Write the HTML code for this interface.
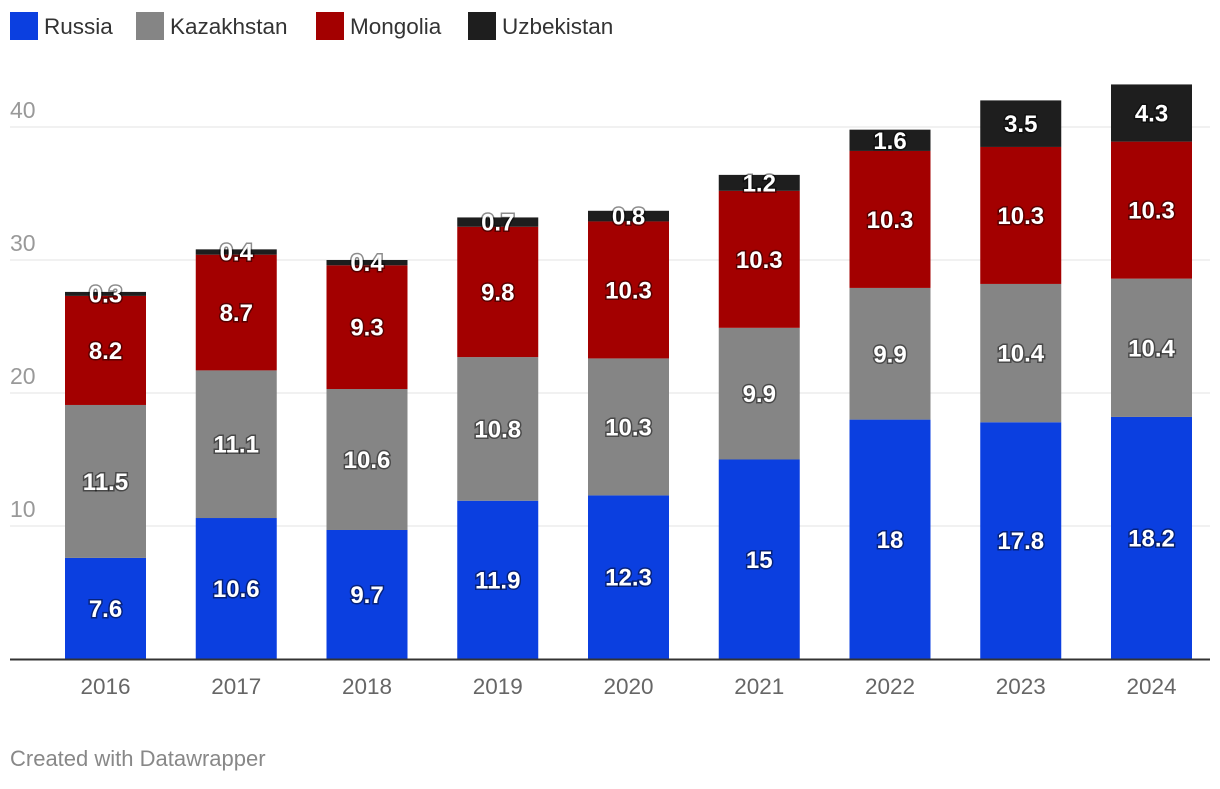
<!DOCTYPE html>
<html><head><meta charset="utf-8"><style>
body{margin:0;background:#fff;width:1220px;height:784px;overflow:hidden;font-family:"Liberation Sans",sans-serif}
</style></head><body>
<svg id="chart" width="1220" height="784" xmlns="http://www.w3.org/2000/svg" font-family="Liberation Sans, sans-serif"></svg>
<script>
const years=["2016","2017","2018","2019","2020","2021","2022","2023","2024"];
const russia=[7.6,10.6,9.7,11.9,12.3,15,18,17.8,18.2];
const kazakhstan=[11.5,11.1,10.6,10.8,10.3,9.9,9.9,10.4,10.4];
const mongolia=[8.2,8.7,9.3,9.8,10.3,10.3,10.3,10.3,10.3];
const uzbekistan=[0.3,0.4,0.4,0.7,0.8,1.2,1.6,3.5,4.3];
const yTicks=[10,20,30,40];
const seriesNames=["Russia","Kazakhstan","Mongolia","Uzbekistan"];

const colors=["#0b3fe0","#858585","#a30000","#1e1e1e"];
const series=[russia,kazakhstan,mongolia,uzbekistan];
const svg=document.getElementById('chart');
const NS="http://www.w3.org/2000/svg";
const y=v=>659-v*13.3;
const x=i=>65+i*130.75;
const bw=81;
function mk(tag,attrs,txt){const e=document.createElementNS(NS,tag);for(const k in attrs)e.setAttribute(k,attrs[k]);if(txt!==undefined)e.textContent=txt;svg.appendChild(e);return e;}
const lx=[10,136,316,468];
seriesNames.forEach((n,i)=>{
  const r=mk('rect',{x:lx[i],y:12,width:28,height:28,fill:colors[i]});
  
  
  const t=mk('text',{x:lx[i]+34,y:34,'font-size':22.5,fill:'#333'},n);
  
  
});
yTicks.forEach(v=>{
  const l=mk('line',{x1:10,x2:1210,y1:y(v),y2:y(v),stroke:'#e3e3e3','stroke-width':1});
  
  
  const t=mk('text',{x:10,y:y(v)-9,'font-size':23,fill:'#999'},v);
  
  
});
years.forEach((yr,i)=>{
  let base=0;
  series.forEach((s,k)=>{
    const v=s[i];
    const r=mk('rect',{x:x(i),y:y(base+v),width:bw,height:v*13.3,fill:colors[k]});
    
    
    const cy=y(base+v/2)+8.5;
    const t=mk('text',{x:x(i)+bw/2,y:cy,'font-size':24,'font-weight':'bold',fill:'#fff','text-anchor':'middle',style:'paint-order:stroke;stroke:rgba(0,0,0,0.45);stroke-width:3px'},String(v));
    
    
    base+=v;
  });
  const t=mk('text',{x:x(i)+bw/2,y:694,'font-size':22.5,fill:'#666','text-anchor':'middle'},yr);
  
  
});
const ax=mk('line',{x1:10,x2:1210,y1:659.5,y2:659.5,stroke:'#333','stroke-width':2});


const f=mk('text',{x:10,y:766,'font-size':22,fill:'#888'},'Created with Datawrapper');


</script>
</body></html>
